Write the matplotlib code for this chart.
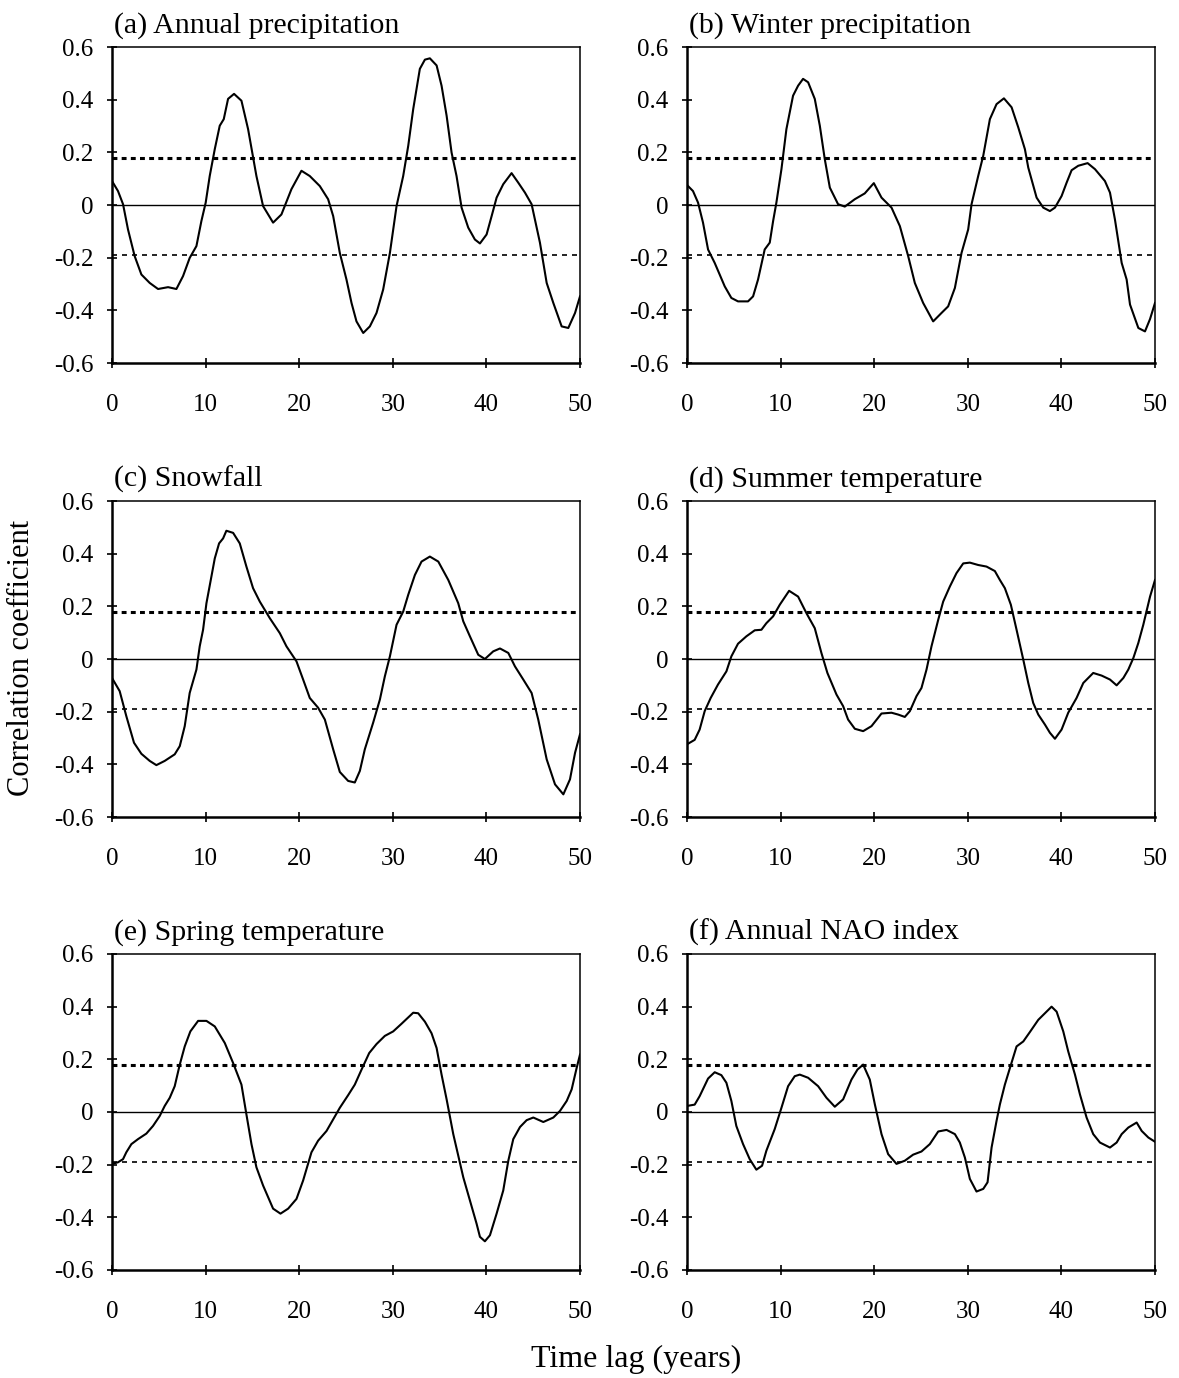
import matplotlib
matplotlib.use("Agg")
import matplotlib.pyplot as plt

plt.rcParams['font.family'] = ['Liberation Serif', 'DejaVu Serif']

titles = ["(a) Annual precipitation", "(b) Winter precipitation", "(c) Snowfall",
          "(d) Summer temperature", "(e) Spring temperature", "(f) Annual NAO index"]

upper_sig = 0.18
lower_sig = -0.19

xticks = [0, 10, 20, 30, 40, 50]
yticks = [-0.6, -0.4, -0.2, 0, 0.2, 0.4, 0.6]
ytick_labels = ["-0.6", "-0.4", "-0.2", "0", "0.2", "0.4", "0.6"]

# (a) Annual precipitation
lag_a = [0, 0.64, 1.18, 1.71, 2.42, 3.14, 4.03, 4.92, 5.99, 6.88, 7.59, 8.30, 9.02, 9.55, 10.01,
         10.44, 10.98, 11.51, 11.94, 12.40, 13.04, 13.83, 14.54, 15.43, 16.14, 17.21, 18.10,
         19.17, 20.24, 21.13, 22.20, 23.09, 23.63, 24.34, 25.05, 25.59, 26.12, 26.84, 27.55,
         28.26, 28.97, 29.69, 30.40, 31.11, 31.65, 32.18, 32.89, 33.43, 33.96, 34.68, 35.21,
         35.75, 36.28, 36.81, 37.35, 38.06, 38.77, 39.31, 40.02, 40.56, 41.09, 41.80, 42.69,
         43.40, 44.12, 44.83, 45.72, 46.44, 47.15, 48.04, 48.75, 49.47, 50]
r_a = [0.091, 0.053, 0.003, -0.093, -0.194, -0.264, -0.296, -0.319, -0.312, -0.319, -0.270,
       -0.201, -0.156, -0.061, 0.009, 0.110, 0.212, 0.301, 0.326, 0.403, 0.422, 0.396, 0.288,
       0.110, -0.004, -0.067, -0.036, 0.060, 0.130, 0.110, 0.072, 0.022, -0.042, -0.182, -0.283,
       -0.372, -0.442, -0.486, -0.461, -0.410, -0.321, -0.182, -0.004, 0.110, 0.225, 0.364,
       0.517, 0.552, 0.557, 0.530, 0.453, 0.339, 0.199, 0.110, -0.010, -0.086, -0.131, -0.146,
       -0.112, -0.042, 0.028, 0.079, 0.121, 0.085, 0.047, 0.003, -0.143, -0.296, -0.372, -0.461,
       -0.467, -0.410, -0.347]

# (b) Winter precipitation
lag_b = [0, 0.64, 1.18, 1.71, 2.25, 2.96, 3.49, 4.03, 4.74, 5.45, 6.52, 7.06, 7.59, 8.30, 8.84,
         9.20, 9.55, 10.09, 10.62, 11.33, 11.87, 12.40, 12.94, 13.65, 14.19, 14.72, 15.26, 16.14,
         16.86, 17.93, 18.99, 19.96, 20.78, 21.85, 22.74, 23.63, 24.34, 25.23, 26.30, 27.19,
         27.90, 28.62, 29.33, 30.04, 30.40, 31.11, 31.65, 32.36, 33.07, 33.86, 34.68, 35.39,
         36.10, 36.46, 37.35, 38.06, 38.77, 39.31, 40.02, 40.56, 41.09, 41.80, 42.80, 43.59,
         44.65, 45.19, 45.72, 46.44, 46.97, 47.33, 48.22, 48.93, 49.47, 50]
r_b = [0.076, 0.053, 0.009, -0.067, -0.169, -0.220, -0.264, -0.309, -0.353, -0.366, -0.366,
       -0.347, -0.283, -0.169, -0.143, -0.061, 0.009, 0.136, 0.288, 0.415, 0.453, 0.479, 0.466,
       0.403, 0.301, 0.174, 0.066, 0.003, -0.006, 0.022, 0.044, 0.083, 0.028, -0.010, -0.080,
       -0.194, -0.296, -0.372, -0.442, -0.410, -0.385, -0.315, -0.182, -0.093, 0.003, 0.110,
       0.187, 0.326, 0.383, 0.405, 0.371, 0.295, 0.212, 0.142, 0.028, -0.010, -0.023, -0.010,
       0.034, 0.085, 0.132, 0.149, 0.159, 0.136, 0.091, 0.047, -0.055, -0.220, -0.283, -0.378,
       -0.467, -0.480, -0.433, -0.372]

# (c) Snowfall
lag_c = [0, 0.82, 1.53, 2.35, 3.14, 4.03, 4.74, 5.63, 6.70, 7.24, 7.77, 8.30, 9.02, 9.37, 9.73,
         10.09, 10.62, 10.98, 11.44, 11.87, 12.22, 12.94, 13.65, 14.36, 15.07, 15.79, 16.86,
         17.93, 18.64, 19.71, 20.42, 21.13, 22.02, 22.74, 23.63, 24.34, 25.23, 25.94, 26.48,
         27.01, 27.90, 28.62, 29.15, 29.69, 30.40, 31.11, 31.65, 32.36, 33.07, 33.96, 34.86,
         35.93, 36.99, 37.53, 38.24, 39.13, 39.84, 40.73, 41.45, 42.34, 43.05, 43.94, 44.83,
         45.54, 46.44, 47.33, 48.22, 48.93, 49.47, 50]
r_c = [-0.072, -0.122, -0.217, -0.318, -0.360, -0.387, -0.403, -0.387, -0.362, -0.331, -0.255,
       -0.129, -0.040, 0.048, 0.111, 0.212, 0.313, 0.382, 0.439, 0.458, 0.487, 0.479, 0.439,
       0.351, 0.269, 0.218, 0.155, 0.098, 0.048, -0.009, -0.078, -0.148, -0.185, -0.230, -0.343,
       -0.429, -0.463, -0.469, -0.425, -0.343, -0.242, -0.154, -0.066, 0.010, 0.130, 0.180,
       0.244, 0.319, 0.370, 0.389, 0.370, 0.300, 0.212, 0.143, 0.086, 0.016, 0.000, 0.029,
       0.040, 0.023, -0.028, -0.078, -0.129, -0.230, -0.381, -0.476, -0.514, -0.457, -0.356,
       -0.286]

# (d) Summer temperature
lag_d = [0, 0.82, 1.35, 1.89, 2.53, 3.31, 4.21, 4.74, 5.45, 6.34, 7.24, 7.95, 8.48, 9.20, 9.91,
         10.91, 11.87, 12.76, 13.65, 14.36, 15.00, 15.97, 16.68, 17.21, 17.93, 18.82, 19.71,
         20.78, 21.85, 22.56, 23.27, 23.81, 24.52, 25.05, 25.59, 26.12, 26.84, 27.37, 28.08,
         28.79, 29.51, 30.22, 31.11, 32.00, 32.89, 33.43, 33.96, 34.60, 35.21, 35.93, 36.46,
         36.99, 37.53, 38.24, 38.77, 39.31, 40.02, 40.73, 41.62, 42.34, 43.40, 44.30, 45.19,
         45.90, 46.62, 47.15, 47.69, 48.22, 48.75, 49.47, 50]
r_d = [-0.324, -0.307, -0.268, -0.198, -0.148, -0.097, -0.047, 0.010, 0.058, 0.086, 0.109,
       0.111, 0.136, 0.162, 0.206, 0.259, 0.237, 0.174, 0.117, 0.023, -0.053, -0.135, -0.179,
       -0.230, -0.265, -0.274, -0.255, -0.207, -0.204, -0.211, -0.220, -0.198, -0.141, -0.110,
       -0.040, 0.048, 0.149, 0.218, 0.275, 0.326, 0.363, 0.366, 0.357, 0.351, 0.334, 0.300,
       0.269, 0.206, 0.111, -0.003, -0.091, -0.167, -0.211, -0.249, -0.280, -0.303, -0.268,
       -0.204, -0.148, -0.091, -0.053, -0.063, -0.078, -0.100, -0.072, -0.040, 0.004, 0.061,
       0.130, 0.237, 0.300]

# (e) Spring temperature
lag_e = [0, 0.64, 1.18, 1.53, 2.07, 2.78, 3.67, 4.38, 5.10, 5.63, 6.17, 6.70, 7.24, 7.77, 8.37,
         9.20, 10.09, 10.98, 12.05, 12.94, 13.83, 14.36, 14.90, 15.43, 16.14, 17.21, 18.00,
         18.82, 19.71, 20.42, 21.31, 22.02, 22.92, 23.63, 24.34, 25.23, 25.94, 26.66, 27.48,
         28.26, 29.15, 30.04, 30.93, 32.18, 32.71, 33.43, 34.14, 34.68, 35.21, 35.75, 36.46,
         37.53, 38.24, 38.95, 39.31, 39.84, 40.38, 41.09, 41.80, 42.34, 42.87, 43.59, 44.30,
         45.01, 46.08, 47.15, 47.86, 48.58, 49.11, 49.64, 50]
r_e = [-0.197, -0.191, -0.179, -0.153, -0.122, -0.103, -0.082, -0.053, -0.015, 0.023, 0.054,
       0.098, 0.180, 0.249, 0.306, 0.346, 0.346, 0.325, 0.262, 0.186, 0.104, -0.009, -0.122,
       -0.210, -0.279, -0.367, -0.386, -0.367, -0.330, -0.260, -0.153, -0.109, -0.072, -0.028,
       0.016, 0.064, 0.104, 0.161, 0.224, 0.258, 0.289, 0.306, 0.335, 0.377, 0.375, 0.343,
       0.299, 0.243, 0.142, 0.048, -0.084, -0.248, -0.336, -0.424, -0.474, -0.491, -0.468,
       -0.386, -0.298, -0.185, -0.103, -0.057, -0.031, -0.021, -0.038, -0.021, 0.004, 0.042,
       0.086, 0.167, 0.218]

# (f) Annual NAO index
lag_f = [0, 0.82, 1.35, 2.25, 2.96, 3.67, 4.21, 4.74, 5.27, 5.99, 6.70, 7.41, 8.02, 8.48, 9.37,
         10.09, 10.80, 11.51, 12.05, 12.94, 14.01, 14.90, 15.79, 16.68, 17.57, 18.21, 18.82,
         19.53, 20.07, 20.78, 21.49, 22.38, 23.27, 24.16, 25.05, 25.94, 26.84, 27.73, 28.62,
         29.15, 29.69, 30.22, 30.93, 31.65, 32.11, 32.54, 33.07, 33.43, 33.96, 34.50, 35.21,
         35.93, 36.64, 37.53, 38.24, 38.95, 39.49, 40.20, 40.73, 41.45, 41.98, 42.69, 43.40,
         44.12, 45.19, 45.90, 46.44, 47.15, 48.04, 48.58, 49.29, 50]
r_f = [0.023, 0.028, 0.060, 0.127, 0.151, 0.140, 0.111, 0.042, -0.053, -0.122, -0.179, -0.219,
       -0.204, -0.147, -0.065, 0.016, 0.098, 0.136, 0.142, 0.130, 0.098, 0.054, 0.020, 0.048,
       0.123, 0.161, 0.180, 0.123, 0.029, -0.084, -0.160, -0.197, -0.185, -0.162, -0.150,
       -0.122, -0.074, -0.068, -0.084, -0.116, -0.173, -0.254, -0.302, -0.292, -0.267, -0.135,
       -0.034, 0.029, 0.104, 0.167, 0.249, 0.268, 0.304, 0.350, 0.375, 0.400, 0.381, 0.306,
       0.230, 0.142, 0.067, -0.021, -0.084, -0.116, -0.135, -0.116, -0.084, -0.059, -0.040,
       -0.072, -0.097, -0.113]

lags = [lag_a, lag_b, lag_c, lag_d, lag_e, lag_f]
rs = [r_a, r_b, r_c, r_d, r_e, r_f]

W, H = 1179, 1378
fig = plt.figure(figsize=(W / 100, H / 100), dpi=100)

col_left = [112, 687]
row_top = [47, 501, 954]
ax_w, ax_h = 468, 316

for i in range(6):
    row, col = divmod(i, 2)
    l = col_left[col] / W
    b = 1 - (row_top[row] + ax_h) / H
    ax = fig.add_axes([l, b, ax_w / W, ax_h / H])
    ax.plot(lags[i], rs[i], color='black', lw=1.5, zorder=3)
    ax.axhline(0, color='black', lw=1.0, zorder=2)
    ax.axhline(upper_sig, color='black', lw=2.2, linestyle=(0, (1.6, 1.4)), zorder=2)
    ax.axhline(lower_sig, color='black', lw=1.2, linestyle=(0, (3, 3)), zorder=2)
    ax.set_xlim(0, 50)
    ax.set_ylim(-0.6, 0.6)
    ax.set_xticks(xticks)
    ax.set_yticks(yticks)
    ax.set_yticklabels(ytick_labels)
    ax.tick_params(axis='both', direction='inout', length=7, width=1.2, labelsize=18)
    ax.tick_params(axis='y', pad=10)
    ax.tick_params(axis='x', pad=19)
    for s in ['left', 'bottom']:
        ax.spines[s].set_linewidth(1.8)
    for s in ['top', 'right']:
        ax.spines[s].set_linewidth(1.1)
    ax.text(0.004, 1.045, titles[i], transform=ax.transAxes, fontsize=21.5,
            ha='left', va='baseline')

fig.text(22 / W, 1 - 658 / H, "Correlation coefficient", rotation=90,
         ha='center', va='center', fontsize=22)
fig.text(636 / W, 1 - 1367 / H, "Time lag (years)", ha='center', va='baseline',
         fontsize=23)

fig.savefig("out.png", dpi=100)
